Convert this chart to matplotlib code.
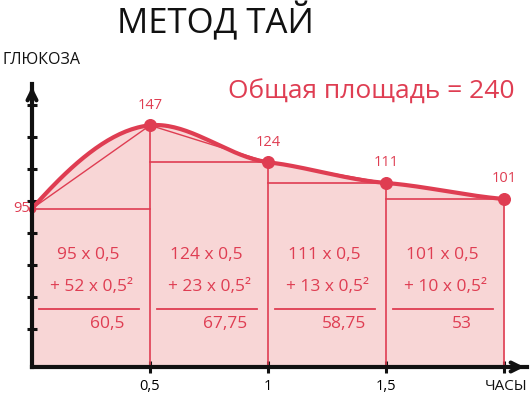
import numpy as np
import matplotlib
matplotlib.use("Agg")
import matplotlib.pyplot as plt

# ---- data ----
hours = [0.0, 0.5, 1.0, 1.5, 2.0]
glucose = [95, 147, 124, 111, 101]
xtick_vals = [0.5, 1.0, 1.5, 2.0]
xtick_labels = ["0,5", "1", "1,5", ""]
ytick_vals = [20, 40, 60, 80, 100, 120, 140, 160]
line1 = ["95 x 0,5", "124 x 0,5", "111 x 0,5", "101 x 0,5"]
line2 = ["+ 52 x 0,5²", "+ 23 x 0,5²", "+ 13 x 0,5²", "+ 10 x 0,5²"]
results = ["60,5", "67,75", "58,75", "53"]
title = "МЕТОД ТАЙ"
ylabel = "ГЛЮКОЗА"
xlabel = "ЧАСЫ"
total_text = "Общая площадь = 240"

RED = "#df3d52"
FILL = "#f8d6d6"
FONT = ["Open Sans", "DejaVu Sans"]
YMIN, YMAX = -3.9, 172.8

fig = plt.figure(figsize=(5.32, 3.96), dpi=100)
ax = fig.add_axes([32/532, 29/396, 495/532, 283/396])
ax.set_xlim(0, 2.097)
ax.set_ylim(YMIN, YMAX)

x = np.array(hours)
y = np.array(glucose, dtype=float)


# smooth Hermite rendering through the data points
def smooth(x, y, k=0.5, m=40):
    n = len(x)
    slopes = np.zeros(n)
    for i in range(n):
        if i == 0:
            slopes[i] = (y[1] - y[0]) / (x[1] - x[0]) * 1.6
        elif i == n - 1:
            slopes[i] = (y[-1] - y[-2]) / (x[-1] - x[-2]) * 0.6
        else:
            slopes[i] = (y[i + 1] - y[i - 1]) / (x[i + 1] - x[i - 1]) * k
    xs, ys = [], []
    for i in range(n - 1):
        hh = x[i + 1] - x[i]
        t = np.linspace(0, 1, m)
        h00 = 2*t**3 - 3*t**2 + 1
        h10 = t**3 - 2*t**2 + t
        h01 = -2*t**3 + 3*t**2
        h11 = t**3 - t**2
        xs.append(x[i] + t * hh)
        ys.append(h00*y[i] + h10*hh*slopes[i] + h01*y[i+1] + h11*hh*slopes[i+1])
    return np.concatenate(xs), np.concatenate(ys)


xs, ys = smooth(x, y)

ax.fill_between(xs, YMIN, ys, color=FILL, lw=0, zorder=1)
ax.plot(xs, ys, color=RED, lw=3, zorder=4, solid_capstyle="round")
ax.plot(x, y, color=RED, lw=1, zorder=3)
for i in range(len(x) - 1):
    low = min(y[i], y[i + 1])
    ax.plot([x[i], x[i + 1]], [low, low], color=RED, lw=1.2, zorder=3)
for xi, yi in zip(x[1:], y[1:]):
    ax.plot([xi, xi], [YMIN, yi], color=RED, lw=1.2, zorder=3)
ax.scatter(x[1:], y[1:], s=70, color=RED, zorder=5, clip_on=False)
ax.scatter(x[:1], y[:1], s=20, color=RED, zorder=2, clip_on=False)

# point labels
for xi, yi in zip(x[1:], y[1:]):
    ax.annotate(str(int(yi)), (xi, yi), xytext=(0, 9), textcoords="offset points",
                ha="center", va="bottom", color=RED, fontsize=10.5, family=FONT)
ax.annotate(str(int(y[0])), (x[0], y[0]), xytext=(-1, 0), textcoords="offset points",
            ha="right", va="center", color=RED, fontsize=10.5, family=FONT)

# calculation text blocks
for i in range(len(x) - 1):
    xc = (x[i] + x[i + 1]) / 2
    ax.text(xc - 0.01, 66, line1[i], ha="center", va="center", color=RED, fontsize=12.5,
            family=FONT, zorder=6)
    ax.text(xc, 46, line2[i], ha="center", va="center", color=RED, fontsize=12.5,
            family=FONT, zorder=6)
    ax.plot([x[i] + 0.03, x[i + 1] - 0.045], [32.5, 32.5], color=RED, lw=1.3, zorder=6)
    ax.text(xc + 0.07, 23, results[i], ha="center", va="center", color=RED, fontsize=12.5,
            family=FONT, zorder=6)

# axes styling
for s in ["top", "right"]:
    ax.spines[s].set_visible(False)
for s in ["left", "bottom"]:
    ax.spines[s].set_linewidth(3)
    ax.spines[s].set_color("#111111")
    ax.spines[s].set_zorder(7)
ax.set_xticks(xtick_vals)
ax.set_xticklabels(xtick_labels, fontsize=10.5, family=FONT)
ax.set_yticks(ytick_vals)
ax.set_yticklabels([])
ax.tick_params(axis="both", direction="inout", length=9, width=2.2, color="#111111", pad=4)
ax.tick_params(axis="y", length=7)
ax.set_facecolor("none")

# arrow heads
ax.annotate("", xy=(1.0, 0), xytext=(0.97, 0), xycoords="axes fraction",
            arrowprops=dict(arrowstyle="->", lw=3, color="#111111", mutation_scale=16))
ax.annotate("", xy=(0, 1.0), xytext=(0, 0.96), xycoords="axes fraction",
            arrowprops=dict(arrowstyle="->", lw=3, color="#111111", mutation_scale=16))

fig.text(215/532, 1 - 22/396, title, ha="center", va="center", fontsize=25, family=FONT, color="#111111")
fig.text(2/532, 1 - 60/396, ylabel, ha="left", va="center", fontsize=11.5, family=FONT, color="#111111")
fig.text(527/532, 1 - 386/396, xlabel, ha="right", va="center", fontsize=11, family=FONT, color="#111111")
fig.text(371/532, 1 - 92/396, total_text, ha="center", va="center", fontsize=19, family=FONT, color=RED)

fig.savefig("out.png", dpi=100, facecolor="white")
